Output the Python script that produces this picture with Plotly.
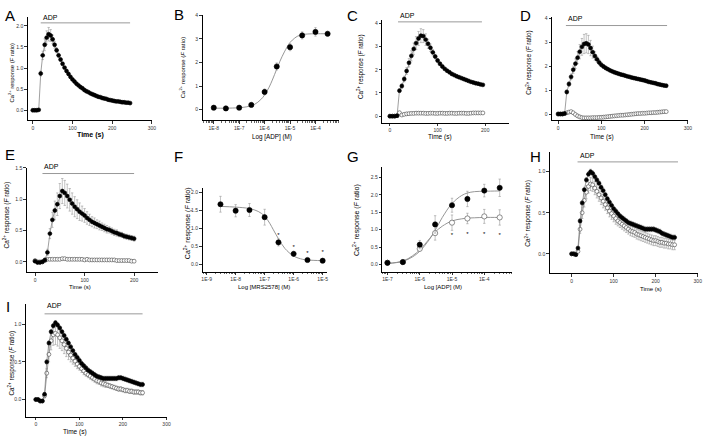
import numpy as np
import plotly.graph_objects as go

W, H = 709, 438

# ---------------- data ----------------
t_A = list(range(0, 250, 5))
ca_A = [0.00,0.00,0.00,0.01,0.87,1.30,1.55,1.72,1.80,1.77,
        1.68,1.55,1.42,1.30,1.20,1.10,1.01,0.93,0.86,0.79,
        0.73,0.68,0.63,0.59,0.55,0.52,0.48,0.45,0.43,0.40,
        0.38,0.36,0.34,0.32,0.31,0.29,0.28,0.27,0.25,0.24,
        0.23,0.22,0.21,0.21,0.20,0.19,0.19,0.18,0.18,0.17]
err_A = [0.01,0.01,0.01,0.01,0.06,0.10,0.14,0.16,0.16,0.14,
         0.10,0.08,0.06,0.05,0.04,0.04,0.03,0.03,0.03,0.03,
         0.02,0.02,0.02,0.02,0.02,0.02,0.02,0.02,0.02,0.02,
         0.02,0.02,0.02,0.02,0.02,0.02,0.02,0.02,0.02,0.02,
         0.02,0.02,0.02,0.02,0.02,0.02,0.02,0.02,0.02,0.02]

conc_B = [1e-8, 3e-8, 1e-7, 3e-7, 1e-6, 3e-6, 1e-5, 3e-5, 1e-4, 3e-4]
resp_B = [0.08, 0.05, 0.08, 0.20, 0.75, 1.83, 2.65, 3.15, 3.30, 3.22]
err_B = [0.04, 0.03, 0.04, 0.05, 0.12, 0.15, 0.15, 0.15, 0.18, 0.10]
fitc_B = [1e-8, 3e-8, 1e-7, 2e-7, 4e-7, 7e-7, 1e-6, 1.5e-6, 2e-6, 3e-6, 4e-6, 6e-6,
          1e-5, 1.5e-5, 2e-5, 3e-5, 5e-5, 1e-4, 3e-4]
fitv_B = [0.06, 0.06, 0.08, 0.12, 0.22, 0.42, 0.62, 0.95, 1.25, 1.72, 2.05, 2.45,
          2.85, 3.03, 3.12, 3.18, 3.21, 3.22, 3.22]

t_C = list(range(0, 200, 5))
ca_C_ctrl = [0.00,0.00,0.00,0.02,1.10,1.30,1.60,1.95,2.30,2.60,
             2.90,3.15,3.35,3.47,3.45,3.30,3.12,2.95,2.75,2.57,
             2.40,2.26,2.14,2.04,1.96,1.89,1.82,1.77,1.72,1.68,
             1.64,1.60,1.56,1.52,1.48,1.45,1.42,1.40,1.37,1.35]
err_C_ctrl = [0.02,0.02,0.02,0.03,0.08,0.10,0.12,0.15,0.18,0.22,
              0.25,0.28,0.30,0.30,0.28,0.25,0.20,0.16,0.12,0.10,
              0.08,0.07,0.06,0.06,0.05,0.05,0.05,0.05,0.05,0.05,
              0.05,0.05,0.05,0.05,0.05,0.05,0.05,0.05,0.05,0.05]
ca_C_trt = [0.00,0.00,0.00,0.02,0.15,0.05,0.08,0.10,0.11,0.12,
            0.12,0.13,0.13,0.13,0.13,0.12,0.12,0.13,0.13,0.12,
            0.12,0.13,0.13,0.12,0.12,0.13,0.13,0.12,0.12,0.13,
            0.13,0.13,0.12,0.12,0.13,0.14,0.14,0.14,0.14,0.14]
err_C_trt = [0.02,0.02,0.02,0.02,0.05,0.05,0.05,0.05,0.05,0.05,
             0.05,0.05,0.05,0.05,0.05,0.05,0.05,0.05,0.05,0.05,
             0.05,0.05,0.05,0.05,0.05,0.05,0.05,0.05,0.05,0.05,
             0.05,0.05,0.05,0.05,0.05,0.05,0.05,0.05,0.05,0.05]

t_D = list(range(0, 255, 5))
ca_D_ctrl = [0.00,0.00,0.00,0.02,0.92,1.25,1.55,1.85,2.10,2.35,
             2.60,2.80,2.92,2.95,2.90,2.75,2.58,2.42,2.28,2.15,
             2.05,1.98,1.92,1.87,1.82,1.78,1.74,1.71,1.68,1.65,
             1.63,1.60,1.57,1.55,1.52,1.50,1.48,1.46,1.44,1.42,
             1.40,1.37,1.34,1.32,1.30,1.28,1.25,1.23,1.21,1.19,
             1.18]
err_D_ctrl = [0.02,0.02,0.02,0.03,0.08,0.10,0.12,0.15,0.20,0.25,
              0.30,0.35,0.40,0.40,0.38,0.32,0.25,0.18,0.12,0.10,
              0.08,0.07,0.07,0.06,0.06,0.06,0.06,0.06,0.06,0.06,
              0.06,0.06,0.06,0.06,0.06,0.06,0.06,0.06,0.06,0.06,
              0.06,0.06,0.06,0.06,0.06,0.06,0.06,0.06,0.06,0.06,
              0.06]
ca_D_trt = [0.00,0.00,0.00,0.02,0.05,0.08,0.10,0.05,-0.02,-0.08,
            -0.12,-0.15,-0.16,-0.16,-0.16,-0.16,-0.15,-0.15,-0.15,-0.14,
            -0.14,-0.13,-0.12,-0.11,-0.10,-0.09,-0.08,-0.07,-0.06,-0.05,
            -0.05,-0.04,-0.03,-0.02,-0.01,0.00,0.01,0.02,0.02,0.03,
            0.03,0.04,0.05,0.05,0.06,0.06,0.07,0.08,0.09,0.10,
            0.10]
err_D_trt = [0.02,0.02,0.02,0.02,0.04,0.04,0.04,0.04,0.04,0.04,
             0.04,0.04,0.04,0.04,0.04,0.04,0.04,0.04,0.04,0.04,
             0.04,0.04,0.04,0.04,0.04,0.04,0.04,0.04,0.04,0.04,
             0.04,0.04,0.04,0.04,0.04,0.04,0.04,0.04,0.04,0.04,
             0.04,0.04,0.04,0.04,0.04,0.04,0.04,0.04,0.04,0.04,
             0.04]

t_E = list(range(0, 205, 5))
ca_E_ctrl = [0.01,-0.01,-0.01,0.00,0.03,0.15,0.45,0.67,0.82,0.92,
             1.05,1.13,1.10,1.05,0.99,0.93,0.88,0.84,0.80,0.77,
             0.74,0.70,0.67,0.64,0.62,0.60,0.58,0.56,0.54,0.52,
             0.51,0.49,0.47,0.46,0.44,0.43,0.41,0.40,0.39,0.38,
             0.37]
err_E_ctrl = [0.02,0.02,0.02,0.02,0.03,0.05,0.08,0.12,0.15,0.18,
              0.20,0.20,0.20,0.19,0.18,0.17,0.16,0.15,0.14,0.12,
              0.11,0.10,0.09,0.08,0.08,0.07,0.07,0.06,0.06,0.06,
              0.05,0.05,0.05,0.05,0.04,0.04,0.04,0.04,0.04,0.04,
              0.04]
ca_E_trt = [0.02,0.00,0.00,0.00,0.02,0.04,0.04,0.04,0.04,0.04,
            0.04,0.05,0.05,0.04,0.04,0.04,0.04,0.04,0.04,0.04,
            0.03,0.04,0.03,0.03,0.03,0.03,0.03,0.03,0.03,0.03,
            0.03,0.03,0.03,0.02,0.02,0.02,0.02,0.02,0.02,0.01,
            0.01]
err_E_trt = [0.02,0.02,0.02,0.02,0.02,0.02,0.02,0.02,0.02,0.02,
             0.02,0.02,0.02,0.02,0.02,0.02,0.02,0.02,0.02,0.02,
             0.02,0.02,0.02,0.02,0.02,0.02,0.02,0.02,0.02,0.02,
             0.02,0.02,0.02,0.02,0.02,0.02,0.02,0.02,0.02,0.02,
             0.02]

conc_F = [3e-9, 1e-8, 3e-8, 1e-7, 3e-7, 1e-6, 3e-6, 1e-5]
resp_F = [1.68, 1.50, 1.52, 1.32, 0.62, 0.30, 0.13, 0.11]
err_F = [0.22, 0.17, 0.18, 0.22, 0.10, 0.07, 0.04, 0.03]
star_conc_F = [3e-7, 1e-6, 3e-6, 1e-5]
star_y_F = [0.80, 0.47, 0.31, 0.33]
fitc_F = [3e-9, 1e-8, 3e-8, 6e-8, 1e-7, 1.5e-7, 2e-7, 3e-7, 5e-7, 1e-6, 2e-6, 3e-6, 1e-5]
fitv_F = [1.62, 1.60, 1.56, 1.48, 1.35, 1.15, 0.97, 0.72, 0.45, 0.24, 0.15, 0.13, 0.11]

conc_G = [1e-7, 3e-7, 1e-6, 3e-6, 1e-5, 3e-5, 1e-4, 3e-4]
resp_G_ctrl = [0.05, 0.07, 0.57, 1.15, 1.70, 1.88, 2.12, 2.20]
err_G_ctrl = [0.02, 0.02, 0.12, 0.25, 0.20, 0.22, 0.18, 0.25]
resp_G_trt = [0.05, 0.07, 0.45, 0.90, 1.20, 1.32, 1.38, 1.35]
err_G_trt = [0.02, 0.02, 0.06, 0.20, 0.22, 0.15, 0.20, 0.22]
star_conc_G = [1e-5, 3e-5, 1e-4, 3e-4]
star_y_G = [0.82, 0.85, 0.85, 0.82]
fitc_G = [1e-7, 3e-7, 6e-7, 1e-6, 2e-6, 3e-6, 5e-6, 1e-5, 2e-5, 3e-5, 5e-5, 1e-4, 3e-4]
fitv_G_ctrl = [0.03, 0.09, 0.22, 0.38, 0.72, 0.98, 1.35, 1.75, 1.98, 2.05, 2.09, 2.10, 2.11]
fitv_G_trt = [0.03, 0.10, 0.25, 0.42, 0.74, 0.93, 1.10, 1.25, 1.31, 1.33, 1.34, 1.35, 1.35]

t_H = list(range(0, 250, 5))
ca_H_ctrl = [0.00,0.00,-0.01,0.07,0.40,0.62,0.78,0.90,0.97,1.00,
             0.98,0.94,0.90,0.86,0.81,0.77,0.72,0.67,0.63,0.59,
             0.55,0.52,0.49,0.46,0.44,0.42,0.40,0.38,0.37,0.36,
             0.35,0.34,0.33,0.32,0.31,0.30,0.30,0.30,0.30,0.30,
             0.29,0.28,0.27,0.25,0.24,0.23,0.22,0.21,0.20,0.20]
err_H_ctrl = [0.01,0.01,0.01,0.02,0.03,0.03,0.03,0.03,0.03,0.03,
              0.03,0.03,0.03,0.03,0.03,0.03,0.03,0.03,0.03,0.03,
              0.03,0.03,0.03,0.03,0.03,0.03,0.03,0.03,0.03,0.03,
              0.03,0.03,0.03,0.03,0.03,0.03,0.03,0.03,0.03,0.03,
              0.03,0.03,0.03,0.03,0.03,0.03,0.03,0.03,0.03,0.03]
ca_H_trt = [0.00,0.00,-0.01,0.03,0.30,0.50,0.65,0.75,0.82,0.85,
            0.84,0.80,0.76,0.72,0.68,0.64,0.60,0.56,0.52,0.49,
            0.46,0.43,0.40,0.38,0.36,0.34,0.32,0.30,0.28,0.27,
            0.26,0.24,0.23,0.22,0.21,0.20,0.19,0.18,0.17,0.16,
            0.16,0.15,0.14,0.14,0.13,0.13,0.12,0.12,0.11,0.11]
err_H_trt = [0.01,0.01,0.01,0.02,0.05,0.07,0.08,0.08,0.08,0.08,
             0.08,0.08,0.08,0.08,0.08,0.08,0.07,0.07,0.07,0.07,
             0.07,0.07,0.06,0.06,0.06,0.06,0.06,0.06,0.06,0.06,
             0.06,0.06,0.06,0.06,0.06,0.06,0.06,0.06,0.06,0.06,
             0.06,0.06,0.06,0.06,0.06,0.06,0.06,0.06,0.06,0.06]

t_I = list(range(0, 250, 5))
ca_I_ctrl = [0.00,0.00,-0.02,-0.02,0.07,0.50,0.75,0.90,0.98,1.02,
             0.99,0.95,0.90,0.85,0.80,0.75,0.70,0.65,0.60,0.56,
             0.52,0.48,0.45,0.42,0.39,0.37,0.35,0.33,0.31,0.30,
             0.29,0.28,0.28,0.28,0.28,0.28,0.28,0.28,0.29,0.29,
             0.28,0.27,0.26,0.25,0.24,0.23,0.22,0.21,0.20,0.20]
err_I_ctrl = [0.01,0.01,0.01,0.01,0.02,0.03,0.03,0.03,0.03,0.03,
              0.03,0.03,0.03,0.03,0.03,0.03,0.03,0.03,0.03,0.03,
              0.03,0.03,0.03,0.03,0.03,0.03,0.03,0.03,0.03,0.03,
              0.03,0.03,0.03,0.03,0.03,0.03,0.03,0.03,0.03,0.03,
              0.03,0.03,0.03,0.03,0.03,0.03,0.03,0.03,0.03,0.03]
ca_I_trt = [0.00,0.00,-0.02,-0.02,0.05,0.35,0.60,0.78,0.86,0.88,
            0.86,0.82,0.78,0.73,0.68,0.63,0.59,0.55,0.51,0.47,
            0.44,0.41,0.38,0.35,0.33,0.31,0.29,0.27,0.25,0.24,
            0.22,0.21,0.20,0.19,0.18,0.17,0.16,0.15,0.14,0.14,
            0.13,0.12,0.12,0.11,0.11,0.10,0.10,0.10,0.09,0.09]
err_I_trt = [0.01,0.01,0.01,0.01,0.03,0.06,0.10,0.12,0.14,0.15,
             0.15,0.14,0.13,0.12,0.11,0.10,0.09,0.08,0.07,0.06,
             0.05,0.05,0.05,0.04,0.04,0.04,0.04,0.04,0.04,0.04,
             0.04,0.04,0.04,0.03,0.03,0.03,0.03,0.03,0.03,0.03,
             0.03,0.03,0.03,0.03,0.03,0.03,0.03,0.03,0.03,0.03]

# ADP application windows (s)
adp_A = [20, 245]
adp_C = [17, 193]
adp_D = [18, 252]
adp_E = [15, 200]
adp_H = [14, 253]
adp_I = [20, 245]

# ---------------- styling ----------------
FONT = "Arial, Liberation Sans, sans-serif"
YTITLE = "Ca<sup>2+</sup> response (<i>F</i> ratio)"
fig = go.Figure()
layout = dict(width=W, height=H, margin=dict(l=0, r=0, t=0, b=0),
              paper_bgcolor="white", plot_bgcolor="white", showlegend=False,
              font=dict(family=FONT, color="black"))
annotations = []
shapes = []


def px2x(px):
    return px / W


def px2y(py):
    return 1 - py / H


def axes(n, x0, x1, yb, yt, xr, yr, xtv, xtt, ytv, ytt, xminor=None):
    xa = "xaxis" if n == 1 else f"xaxis{n}"
    ya = "yaxis" if n == 1 else f"yaxis{n}"
    common = dict(showline=True, linecolor="black", linewidth=1, ticks="outside",
                  ticklen=2.5, tickwidth=0.8, tickcolor="black", showgrid=False,
                  zeroline=False, tickfont=dict(size=5, family=FONT, color="#333"),
                  mirror=False)
    layout[xa] = dict(domain=[px2x(x0), px2x(x1)], range=xr, anchor=f"y{n}",
                      tickmode="array", tickvals=xtv, ticktext=xtt, **common)
    if xminor is not None:
        layout[xa]["minor"] = dict(tickmode="array", tickvals=xminor, ticks="outside",
                                   ticklen=1.5, tickwidth=0.6, tickcolor="black")
    layout[ya] = dict(domain=[px2y(yb), px2y(yt)], range=yr, anchor=f"x{n}",
                      tickmode="array", tickvals=ytv, ticktext=ytt, **common)


def ax_ref(n):
    return ("x", "y") if n == 1 else (f"x{n}", f"y{n}")


def series(n, x, y, e, filled, msize=3.9, line=True):
    xr, yr = ax_ref(n)
    fig.add_trace(go.Scatter(
        x=x, y=y, xaxis=xr, yaxis=yr,
        mode="lines+markers" if line else "markers",
        line=dict(color="#777", width=0.7),
        marker=dict(symbol="circle", size=msize,
                    color="black" if filled else "white",
                    line=dict(color="black" if filled else "#444", width=0.6)),
        error_y=dict(type="data", array=e, visible=True, color="#999",
                     thickness=0.6, width=1.2)))


def fitline(n, x, y):
    xr, yr = ax_ref(n)
    fig.add_trace(go.Scatter(x=x, y=y, xaxis=xr, yaxis=yr, mode="lines",
                             line=dict(color="#8a8a8a", width=0.9, shape="spline")))


def stars(n, x, y):
    xr, yr = ax_ref(n)
    fig.add_trace(go.Scatter(x=x, y=y, xaxis=xr, yaxis=yr, mode="text",
                             text=["*"] * len(x), textfont=dict(size=6, color="black")))


def letter(ch, px, py):
    annotations.append(dict(text=ch, x=px2x(px), y=px2y(py), xref="paper", yref="paper",
                            xanchor="left", yanchor="top", showarrow=False,
                            font=dict(size=15, family=FONT, color="black")))


def ytitle(px, py, size=5.8):
    annotations.append(dict(text=YTITLE, x=px2x(px), y=px2y(py), xref="paper", yref="paper",
                            xanchor="center", yanchor="middle", textangle=-90, showarrow=False,
                            font=dict(size=size, family=FONT, color="black")))


def xtitle(text, px, py, size=6.5, bold=False):
    annotations.append(dict(text=f"<b>{text}</b>" if bold else text, x=px2x(px), y=px2y(py),
                            xref="paper", yref="paper", xanchor="center", yanchor="middle",
                            showarrow=False, font=dict(size=size, family=FONT, color="black")))


def adp(n, span, ybar, ytext):
    xr, yr = ax_ref(n)
    shapes.append(dict(type="line", xref=xr, yref="paper", x0=span[0], x1=span[1],
                       y0=px2y(ybar), y1=px2y(ybar), line=dict(color="#999", width=1)))
    annotations.append(dict(text="ADP", x=span[0], y=px2y(ytext), xref=xr, yref="paper",
                            xanchor="left", yanchor="middle", showarrow=False,
                            font=dict(size=7, family=FONT, color="black")))


def log_ticks(lo, hi):
    vals = [d for d in range(lo, hi + 1)]
    txt = [f"1E{d}" for d in vals]
    minor = [np.log10(k) + d for d in range(lo - 1, hi + 1) for k in range(2, 10)]
    return vals, txt, minor


def lg(v):
    return list(np.log10(v))


# ---- Panel A ----
axes(1, 27, 152, 118, 14, [-12.5, 300], [-0.235, 2.21],
     [0, 100, 200, 300], ["0", "100", "200", "300"],
     [0, 0.5, 1.0, 1.5, 2.0], ["0.0", "0.5", "1.0", "1.5", "2.0"])
series(1, t_A, ca_A, err_A, True)
adp(1, adp_A, 20, 15)
letter("A", 2, 2)
ytitle(10, 70, 5.8)
xtitle("Time (s)", 90, 133, 7, True)

# ---- Panel B ----
v, tt, mn = log_ticks(-8, -4)
axes(2, 203, 340, 118, 12, [-8.44, -3.09], [-0.45, 4.02], v, tt,
     [0, 1, 2, 3, 4], ["0", "1", "2", "3", "4"], xminor=mn)
fitline(2, lg(fitc_B), fitv_B)
series(2, lg(conc_B), resp_B, err_B, True, msize=5.2, line=False)
letter("B", 172, 1)
ytitle(182, 65, 6)
xtitle("Log [ADP] (M)", 273, 135, 6.3)

# ---- Panel C ----
axes(3, 384, 511.7, 120.5, 17, [-16, 250], [-0.28, 4.15],
     [0, 100, 200], ["0", "100", "200"],
     [0, 1, 2, 3, 4], ["0", "1", "2", "3", "4"])
series(3, t_C, ca_C_trt, err_C_trt, False)
series(3, t_C, ca_C_ctrl, err_C_ctrl, True)
adp(3, adp_C, 19, 13)
letter("C", 346, 2)
ytitle(362, 64, 6.3)
xtitle("Time (s)", 442, 135, 6.5)

# ---- Panel D ----
axes(4, 555, 691.7, 118.3, 14, [-14, 300], [-0.27, 4.05],
     [0, 100, 200, 300], ["0", "100", "200", "300"],
     [0, 1, 2, 3, 4], ["0", "1", "2", "3", "4"])
series(4, t_D, ca_D_trt, err_D_trt, False)
series(4, t_D, ca_D_ctrl, err_D_ctrl, True)
adp(4, adp_D, 22.7, 16)
letter("D", 521, 2)
ytitle(532, 60, 6.3)
xtitle("Time (s)", 605, 135, 6.5)

# ---- Panel E ----
axes(5, 26, 158, 271, 166, [-16.6, 248], [-0.165, 1.5],
     [0, 100, 200], ["0", "100", "200"],
     [0, 0.5, 1.0, 1.5], ["0.0", "0.5", "1.0", "1.5"])
series(5, t_E, ca_E_trt, err_E_trt, False)
series(5, t_E, ca_E_ctrl, err_E_ctrl, True)
adp(5, adp_E, 171.7, 165)
letter("E", 2, 142)
ytitle(6, 213, 6.5)
xtitle("Time (s)", 80, 286, 6)

# ---- Panel F ----
v, tt, mn = log_ticks(-9, -5)
axes(6, 203, 328, 270.7, 186.7, [-9.14, -4.86], [-0.2, 2.12], v, tt,
     [0, 0.5, 1.0, 1.5, 2.0], ["0.0", "0.5", "1.0", "1.5", "2.0"], xminor=mn)
fitline(6, lg(fitc_F), fitv_F)
series(6, lg(conc_F), resp_F, err_F, True, msize=5.2, line=False)
stars(6, lg(star_conc_F), star_y_F)
letter("F", 172, 144)
ytitle(188, 222, 7)
xtitle("Log [MRS2578] (M)", 265, 286, 6)

# ---- Panel G ----
v, tt, mn = log_ticks(-7, -4)
axes(7, 384, 515, 270.7, 165, [-7.16, -3.13], [-0.21, 2.8], v, tt,
     [0, 0.5, 1.0, 1.5, 2.0, 2.5], ["0.0", "0.5", "1.0", "1.5", "2.0", "2.5"], xminor=mn)
fitline(7, lg(fitc_G), fitv_G_ctrl)
fitline(7, lg(fitc_G), fitv_G_trt)
series(7, lg(conc_G), resp_G_trt, err_G_trt, False, msize=5.2, line=False)
series(7, lg(conc_G), resp_G_ctrl, err_G_ctrl, True, msize=5.2, line=False)
stars(7, lg(star_conc_G), star_y_G)
letter("G", 346, 144)
ytitle(358, 218, 7)
xtitle("Log [ADP] (M)", 445, 286, 6)

# ---- Panel H ----
axes(8, 552.7, 701.7, 272, 150, [-52, 300], [-0.235, 1.24],
     [0, 100, 200, 300], ["0", "100", "200", "300"],
     [0, 0.5, 1.0], ["0.0", "0.5", "1.0"])
series(8, t_H, ca_H_trt, err_H_trt, False)
series(8, t_H, ca_H_ctrl, err_H_ctrl, True)
adp(8, adp_H, 160, 154)
letter("H", 531, 144)
ytitle(531, 212, 6.5)
xtitle("Time (s)", 655, 288, 6)

# ---- Panel I ----
axes(9, 25, 166.7, 416.7, 303, [-23, 300], [-0.23, 1.27],
     [0, 100, 200, 300], ["0", "100", "200", "300"],
     [0, 0.5, 1.0], ["0.0", "0.5", "1.0"])
series(9, t_I, ca_I_trt, err_I_trt, False)
series(9, t_I, ca_I_ctrl, err_I_ctrl, True)
adp(9, adp_I, 313, 305)
letter("I", 3, 295)
ytitle(11, 362, 6.3)
xtitle("Time (s)", 75, 432, 6.5)

layout["annotations"] = annotations
layout["shapes"] = shapes
fig.update_layout(**layout)
fig.write_html("out.html", config={"displayModeBar": False, "staticPlot": True},
               post_script="document.body.style.margin='0';document.body.style.padding='0';")
